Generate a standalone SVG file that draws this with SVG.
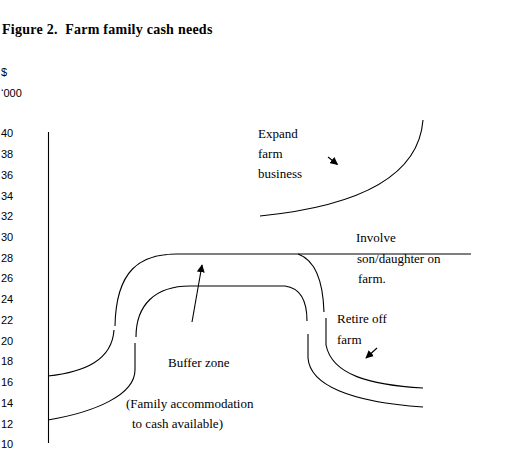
<svg xmlns="http://www.w3.org/2000/svg" width="514" height="460" viewBox="0 0 514 460">
<style>
.t{font-family:"Liberation Serif","Times New Roman",serif;font-size:13px;fill:#000}
.title{font-family:"Liberation Serif","Times New Roman",serif;font-size:14px;letter-spacing:0.25px;font-weight:bold;fill:#000;white-space:pre}
.ax{font-family:"Liberation Sans",Arial,sans-serif;font-size:11px;fill:#000}
.ln{fill:none;stroke:#000;stroke-width:1.1}
.ar{fill:none;stroke:#000;stroke-width:1.1;marker-end:url(#ah)}
</style>
<defs>
<marker id="ah" viewBox="0 0 10 10" refX="9" refY="5" markerWidth="8" markerHeight="8" markerUnits="userSpaceOnUse" orient="auto">
<path d="M0,0 L10,5 L0,10 z" fill="#000"/>
</marker>
</defs>
<rect width="514" height="460" fill="#fff"/>
<text id="title" class="title" x="2" y="34" xml:space="preserve">Figure 2.  Farm family cash needs</text>
<g id="axis">
<text class="ax" x="1" y="76">$</text>
<text class="ax" x="1" y="97">‘000</text>
<text class="ax" x="1" y="137.3">40</text>
<text class="ax" x="1" y="158">38</text>
<text class="ax" x="1" y="178.8">36</text>
<text class="ax" x="1" y="199.5">34</text>
<text class="ax" x="1" y="220.2">32</text>
<text class="ax" x="1" y="241">30</text>
<text class="ax" x="1" y="261.7">28</text>
<text class="ax" x="1" y="282.4">26</text>
<text class="ax" x="1" y="303.2">24</text>
<text class="ax" x="1" y="323.9">22</text>
<text class="ax" x="1" y="344.6">20</text>
<text class="ax" x="1" y="365.3">18</text>
<text class="ax" x="1" y="386.1">16</text>
<text class="ax" x="1" y="406.8">14</text>
<text class="ax" x="1" y="427.5">12</text>
<text class="ax" x="1" y="448.3">10</text>
<line class="ln" x1="48.5" y1="132" x2="48.5" y2="443"/>
</g>
<g id="connectors">
<path class="ln" d="M48,376 C85,372 112,360 114,330"/>
<path class="ln" d="M115,326 C116,270 140,254 177,254 H471"/>
<path class="ln" d="M298,254 C315,260 323,280 324,312"/>
<path class="ln" d="M326,318 V345 C332,375 370,385 423,388"/>
<path class="ln" d="M48,420 C95,412 135,395 135,370 V343"/>
<path class="ln" d="M136,337 C136,305 155,286 190,286 H285 C300,288 307,300 307,321"/>
<path class="ln" d="M308,334 V358 C310,385 350,402 423,407"/>
<path class="ln" d="M260,216 C340,208 418,185 423,120"/>
<line class="ar" x1="192" y1="322" x2="202" y2="265"/>
<line class="ar" x1="328" y1="157" x2="337.5" y2="164.5"/>
<line class="ar" x1="377" y1="348" x2="366" y2="358"/>
</g>
<g id="expand"><text class="t" x="258" y="138">Expand</text><text class="t" x="258" y="158">farm</text><text class="t" x="258" y="178">business</text></g>
<g id="involve"><text class="t" x="356" y="242">Involve</text><text class="t" x="357" y="263">son/daughter on</text><text class="t" x="358" y="283">farm.</text></g>
<g id="retire"><text class="t" x="337" y="323">Retire off</text><text class="t" x="337" y="344">farm</text></g>
<g id="buffer"><text class="t" x="168" y="367">Buffer zone</text></g>
<g id="family"><text class="t" x="126" y="408">(Family accommodation</text><text class="t" x="132" y="428">to cash available)</text></g>
</svg>
